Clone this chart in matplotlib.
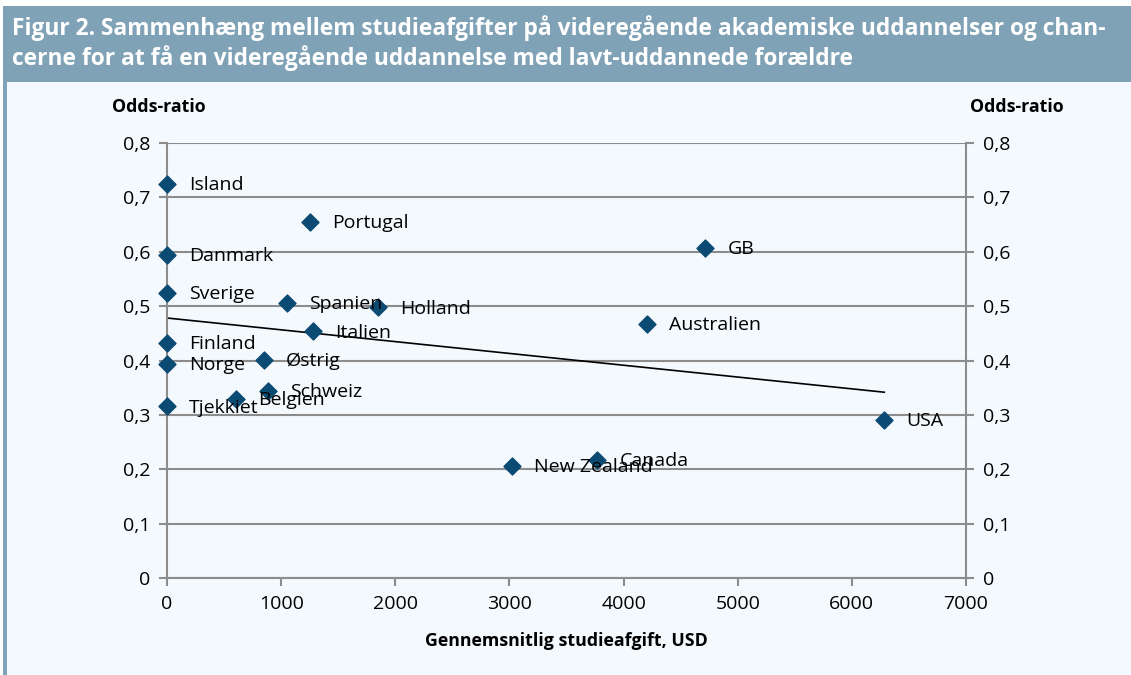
import numpy as np
import matplotlib.pyplot as plt
from matplotlib.patches import Rectangle

# Data
countries = ["Island", "Portugal", "Danmark", "GB", "Sverige", "Spanien", "Holland",
             "Australien", "Italien", "Finland", "Østrig", "Norge", "Schweiz",
             "Belgien", "Tjekkiet", "USA", "New Zealand", "Canada"]
fees = [0, 1253, 0, 4715, 0, 1052, 1849, 4207, 1280, 0, 850, 0, 885, 605, 0, 6284, 3024, 3769]
odds = [0.725, 0.655, 0.594, 0.607, 0.524, 0.506, 0.498, 0.467, 0.454, 0.432, 0.401,
        0.394, 0.344, 0.329, 0.316, 0.291, 0.206, 0.217]
xticks = [0, 1000, 2000, 3000, 4000, 5000, 6000, 7000]
yticks = [0, 0.1, 0.2, 0.3, 0.4, 0.5, 0.6, 0.7, 0.8]

title = ("Figur 2. Sammenhæng mellem studieafgifter på videregående akademiske uddannelser og chan-\n"
         "cerne for at få en videregående uddannelse med lavt-uddannede forældre")

plt.rcParams["font.family"] = ["Open Sans", "DejaVu Sans"]
header_col = "#7fa2b6"
bg_col = "#f4f9fe"
grid_col = "#8c8c8c"
marker_col = "#0b4a73"

fig = plt.figure(figsize=(11.31, 6.75), dpi=100)
fig.patch.set_facecolor("white")

# panel background, header band and left strip
W, H = 1131, 675
fig.add_artist(Rectangle((3 / W, 0), 1 - 3 / W, 1 - 82 / H, transform=fig.transFigure,
                         facecolor=bg_col, edgecolor="none", zorder=0))
fig.add_artist(Rectangle((3 / W, 1 - 82 / H), 1 - 3 / W, 76 / H, transform=fig.transFigure,
                         facecolor=header_col, edgecolor="none", zorder=0))
fig.add_artist(Rectangle((3 / W, 0), 4 / W, 1 - 82 / H, transform=fig.transFigure,
                         facecolor=header_col, edgecolor="none", zorder=0))
fig.text(12 / W, 1 - 43 / H, title, color="white", fontsize=16.4, fontweight="bold",
         va="center", ha="left", linespacing=1.22)

ax = fig.add_axes([167 / W, 1 - 578 / H, 799 / W, 435 / H])
ax.set_facecolor("none")
ax.set_xlim(0, 7000)
ax.set_ylim(0, 0.8)
ax.set_xticks(xticks)
ax.set_yticks(yticks)
ax.set_yticklabels([f"{v:.1f}".replace(".", ",") if v else "0" for v in yticks])
ax.grid(axis="y", color=grid_col, linewidth=1.5)
ax.set_axisbelow(True)
ax.spines["top"].set_visible(False)
for s in ["left", "right", "bottom"]:
    ax.spines[s].set_color(grid_col)
    ax.spines[s].set_linewidth(1.5)
ax.tick_params(axis="both", color=grid_col, width=1.5, length=6, labelsize=14, pad=6)
ax.tick_params(axis="y", right=True, labelright=True)

lab_kw = dict(fontsize=12.8, fontweight="bold")
fig.text(112 / W, 1 - 107 / H, "Odds-ratio", ha="left", va="center", **lab_kw)
fig.text(1064 / W, 1 - 107 / H, "Odds-ratio", ha="right", va="center", **lab_kw)
ax.set_xlabel("Gennemsnitlig studieafgift, USD", labelpad=14, **lab_kw)

# trend line (least squares)
slope, icpt = np.polyfit(fees, odds, 1)
xl = np.array([0, max(fees)])
ax.plot(xl, icpt + slope * xl, color="black", linewidth=1.2, zorder=2)

ax.scatter(fees, odds, marker="D", s=75, color=marker_col, zorder=3, clip_on=False)
for c, x, y in zip(countries, fees, odds):
    ax.annotate(c, (x, y), xytext=(16, -1), textcoords="offset points",
                fontsize=14, va="center", ha="left", zorder=4)

fig.savefig("out.png", dpi=100, facecolor=fig.get_facecolor())
